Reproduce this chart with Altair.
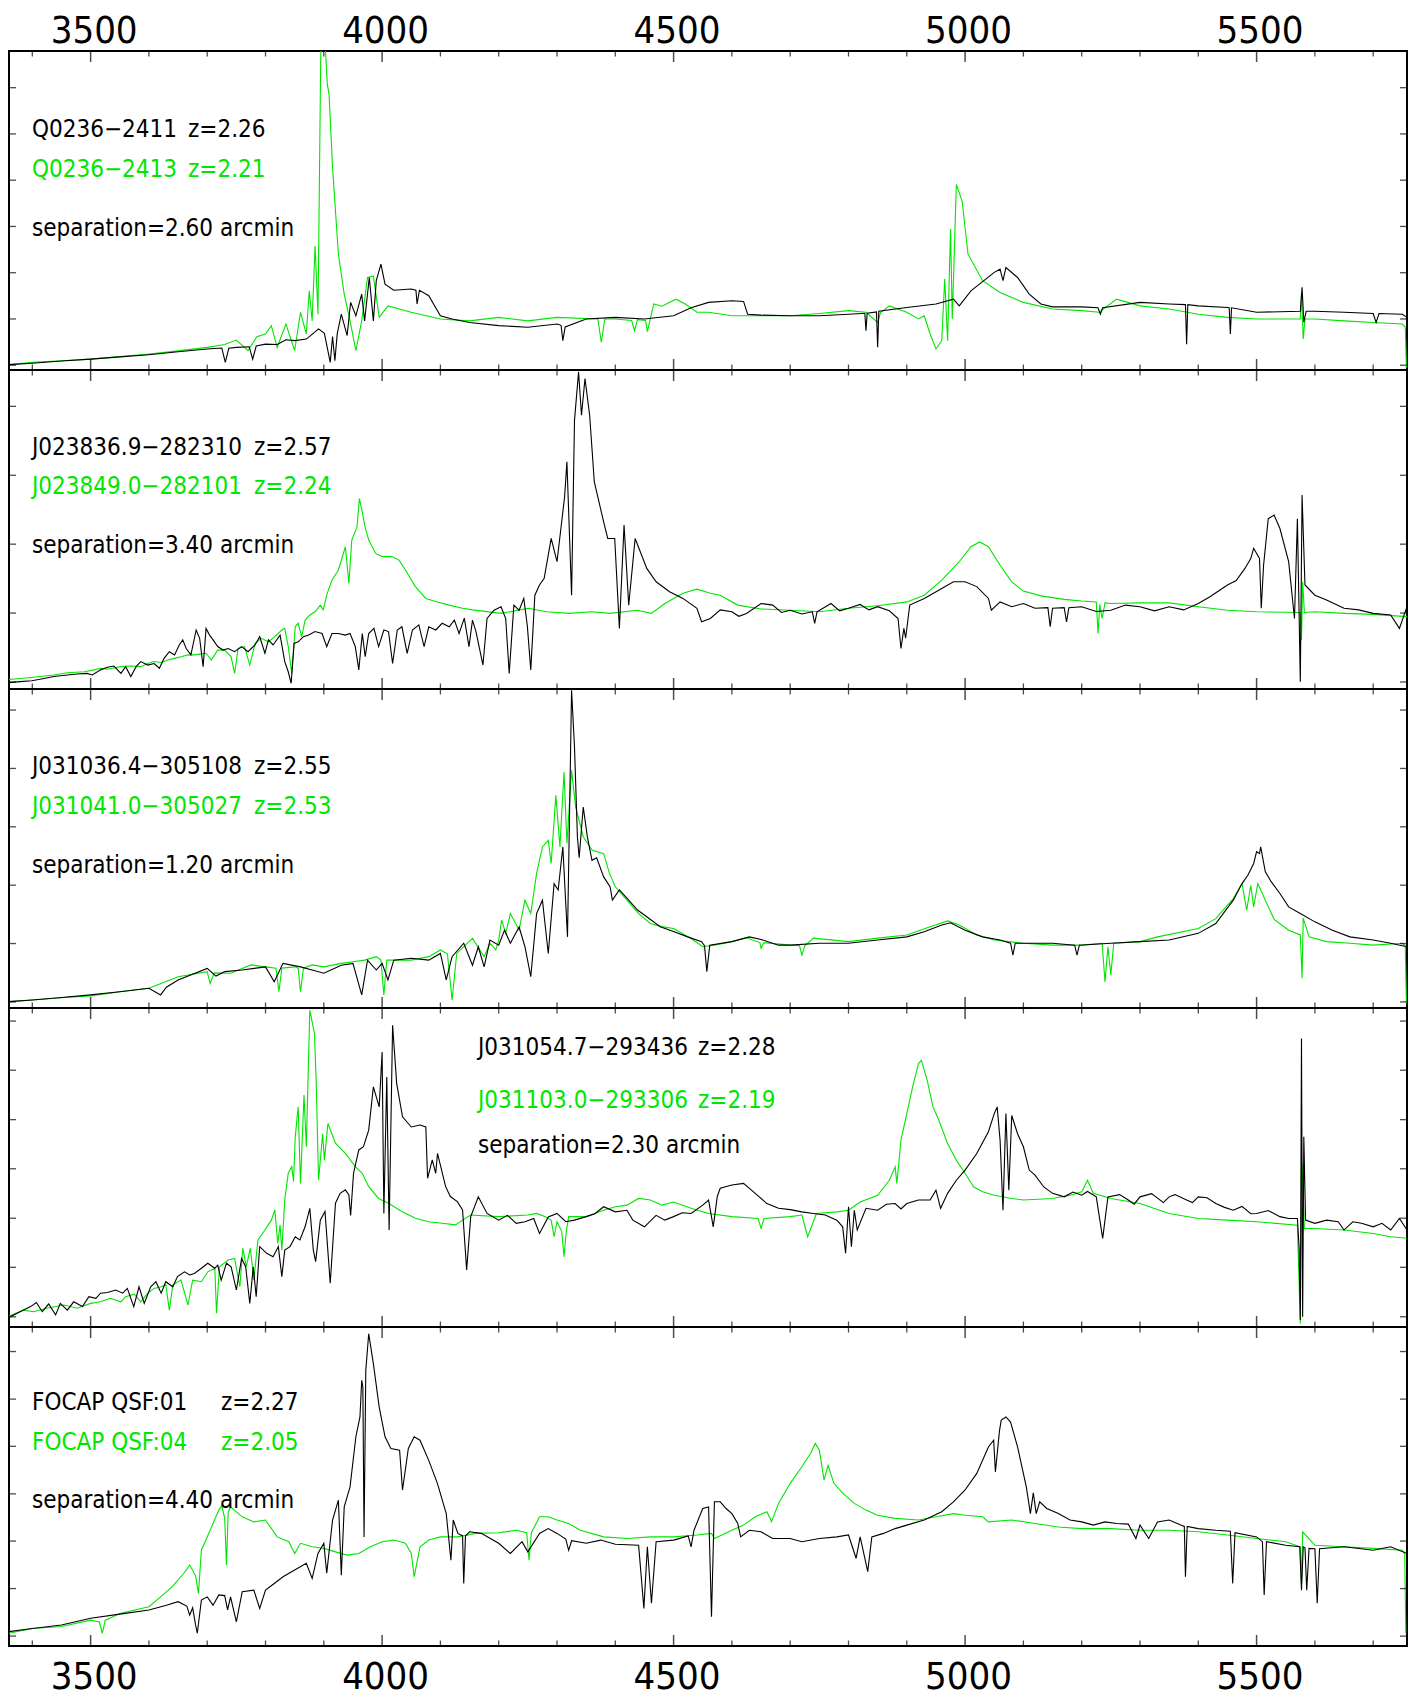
import altair as alt
import pandas as pd

# ---------------- data (wavelength in Angstrom, flux in % of panel height) ----------------
P1_BLACK = [(3360,1.7),(3400,2.1),(3450,2.8),(3500,3.4),(3550,4.1),(3600,4.8),(3650,5.7),(3700,6.6),(3725,6.9),(3731,2.4),(3737,6.8),(3750,7.1),(3772,7.3),(3778,3.4),(3784,7.5),(3800,8.1),(3820,8.0),(3835,9.5),(3850,9.2),(3870,9.7),(3884,11.8),(3891,12.9),(3901,11.5),(3911,2.4),(3915,10.5),(3919,2.9),(3923,11.3),(3930,17.5),(3940,10.8),(3946,21.2),(3955,17.0),(3965,23.8),(3970,15.4),(3978,29.0),(3985,15.4),(3990,28.0),(3998,33.2),(4005,26.9),(4020,25.0),(4050,25.4),(4058,25.0),(4060,20.7),(4064,25.0),(4080,23.3),(4100,17.0),(4120,16.0),(4150,14.9),(4200,13.9),(4250,13.4),(4300,14.4),(4307,14.0),(4310,9.2),(4314,13.5),(4350,16.0),(4400,16.5),(4450,16.0),(4500,17.0),(4530,19.5),(4560,21.2),(4600,21.7),(4620,21.5),(4627,17.5),(4650,17.2),(4700,17.0),(4750,17.0),(4800,17.5),(4828,17.8),(4830,12.3),(4832,17.8),(4848,18.2),(4850,7.1),(4852,18.4),(4900,19.6),(4950,20.7),(4980,22.2),(4990,20.1),(5010,24.8),(5050,30.6),(5060,31.6),(5065,28.0),(5070,32.1),(5090,29.0),(5110,23.8),(5130,20.7),(5150,19.8),(5200,19.8),(5228,19.5),(5232,17.5),(5236,19.5),(5300,21.2),(5350,20.7),(5378,20.5),(5380,8.1),(5382,20.5),(5400,20.1),(5450,19.6),(5453,19.5),(5455,11.3),(5457,19.5),(5500,18.1),(5575,18.4),(5578,25.9),(5581,15.0),(5585,18.4),(5600,18.4),(5650,18.1),(5700,17.7),(5705,14.9),(5710,17.7),(5750,17.5),(5758,16.5)]
P1_GREEN = [(3360,1.7),(3400,2.4),(3450,2.9),(3500,3.4),(3550,4.2),(3600,5.0),(3650,6.0),(3700,7.1),(3730,8.0),(3750,9.4),(3770,6.1),(3785,10.4),(3800,11.3),(3810,13.9),(3820,7.1),(3835,14.4),(3850,6.1),(3860,18.1),(3870,11.3),(3875,24.8),(3880,15.4),(3885,38.9),(3890,17.5),(3895,103.0),(3902,103.0),(3906,89.6),(3909,86.4),(3915,63.5),(3925,36.3),(3935,23.8),(3945,15.4),(3955,6.1),(3965,15.4),(3975,29.0),(3985,29.5),(3995,16.5),(4010,20.1),(4050,18.1),(4100,16.0),(4150,15.4),(4200,16.5),(4250,15.4),(4300,16.5),(4370,16.0),(4376,8.7),(4382,16.0),(4400,16.0),(4428,15.5),(4433,12.3),(4438,15.8),(4452,15.5),(4455,12.0),(4460,16.0),(4466,20.7),(4480,20.0),(4504,22.2),(4520,20.7),(4540,18.1),(4560,18.1),(4600,17.0),(4700,17.0),(4750,17.7),(4800,18.6),(4830,18.1),(4850,14.9),(4855,18.0),(4870,20.1),(4900,18.1),(4920,16.0),(4930,17.0),(4940,11.3),(4950,6.6),(4960,9.2),(4965,28.5),(4970,9.2),(4975,44.2),(4978,16.0),(4985,58.2),(4995,52.9),(5005,36.3),(5030,28.0),(5060,24.3),(5100,21.2),(5150,19.1),(5200,18.6),(5230,18.1),(5260,22.2),(5300,20.1),(5350,19.1),(5400,17.5),(5450,16.5),(5500,16.0),(5575,16.0),(5577,23.8),(5580,9.7),(5583,16.0),(5600,16.0),(5650,15.4),(5700,14.9),(5750,14.4),(5755,13.5),(5757,0.8)]

P2_BLACK = [(3360,2.0),(3379,2.3),(3399,2.6),(3420,3.3),(3437,3.9),(3460,4.4),(3477,4.7),(3494,4.9),(3503,4.4),(3517,6.0),(3529,6.8),(3540,7.2),(3552,4.9),(3560,7.0),(3569,3.9),(3578,7.0),(3586,8.6),(3598,7.5),(3609,8.0),(3618,6.5),(3626,9.6),(3635,11.7),(3644,10.7),(3652,13.8),(3658,15.4),(3664,12.7),(3672,10.7),(3681,18.5),(3687,15.9),(3693,7.0),(3698,19.0),(3704,16.9),(3710,15.4),(3718,13.3),(3727,12.2),(3736,12.7),(3747,11.7),(3759,13.3),(3770,11.7),(3782,13.8),(3790,16.4),(3799,11.2),(3805,15.4),(3813,13.8),(3825,16.9),(3833,8.6),(3839,5.4),(3844,1.8),(3849,14.3),(3856,14.8),(3865,16.4),(3874,16.9),(3885,18.0),(3897,17.4),(3905,13.3),(3914,17.4),(3925,17.4),(3937,16.9),(3945,17.4),(3954,13.3),(3960,6.0),(3966,17.4),(3971,10.1),(3977,17.4),(3986,19.0),(3994,13.3),(4003,18.5),(4011,18.0),(4018,8.0),(4026,18.5),(4034,19.5),(4043,11.2),(4052,18.5),(4063,20.1),(4072,13.3),(4080,19.5),(4092,18.5),(4103,20.6),(4115,19.5),(4124,21.6),(4132,17.4),(4141,22.2),(4149,13.3),(4155,21.6),(4161,18.0),(4173,7.5),(4180,22.1),(4192,24.7),(4204,25.8),(4212,22.1),(4218,4.9),(4226,26.3),(4235,24.7),(4243,28.4),(4249,20.0),(4255,6.0),(4262,29.4),(4270,32.6),(4278,34.7),(4290,47.2),(4300,39.9),(4313,60.2),(4317,71.2),(4325,29.4),(4330,84.2),(4337,99.4),(4342,85.8),(4348,97.3),(4356,85.8),(4364,64.9),(4380,52.4),(4387,47.2),(4399,47.2),(4407,19.0),(4415,51.4),(4423,26.3),(4434,47.2),(4454,37.8),(4470,33.6),(4493,30.5),(4516,28.4),(4540,25.3),(4548,21.1),(4563,22.1),(4580,24.8),(4600,24.2),(4612,22.8),(4625,23.7),(4650,26.8),(4670,26.3),(4685,24.0),(4700,24.7),(4720,23.5),(4738,24.2),(4742,20.6),(4746,24.2),(4770,26.8),(4785,24.5),(4800,25.3),(4820,26.5),(4835,24.8),(4850,25.8),(4870,24.5),(4885,22.1),(4890,12.7),(4895,19.0),(4898,15.9),(4905,26.3),(4930,28.4),(4960,31.5),(4980,33.6),(5000,33.6),(5020,32.1),(5040,28.4),(5045,24.7),(5060,27.3),(5080,25.8),(5100,26.8),(5120,25.3),(5142,25.5),(5146,19.5),(5150,25.3),(5170,25.5),(5174,21.0),(5178,25.5),(5200,25.8),(5225,24.3),(5250,24.7),(5275,26.3),(5300,25.8),(5325,24.5),(5350,25.8),(5375,24.8),(5400,26.8),(5420,28.9),(5450,32.6),(5465,34.0),(5480,37.8),(5490,40.9),(5495,44.1),(5505,40.9),(5508,25.3),(5512,38.8),(5520,53.4),(5530,54.5),(5540,50.3),(5555,39.9),(5565,22.1),(5570,53.4),(5575,2.3),(5578,60.8),(5583,32.6),(5600,29.4),(5620,27.9),(5650,25.3),(5675,24.8),(5700,23.7),(5730,23.2),(5745,19.0),(5758,25.8)]
P2_GREEN = [(3360,3.0),(3402,3.7),(3437,4.4),(3460,5.1),(3489,5.4),(3506,6.0),(3517,6.5),(3529,6.2),(3552,7.0),(3569,7.2),(3586,7.0),(3598,8.0),(3609,8.6),(3621,8.3),(3632,9.1),(3644,9.6),(3655,10.1),(3667,10.7),(3678,10.7),(3690,11.0),(3698,11.2),(3707,9.1),(3718,12.2),(3730,12.2),(3741,10.1),(3747,4.9),(3753,12.7),(3764,13.3),(3773,7.5),(3782,14.3),(3793,15.9),(3805,14.8),(3816,16.4),(3828,18.5),(3833,19.0),(3839,13.3),(3845,4.9),(3851,19.5),(3856,20.6),(3862,16.4),(3868,21.6),(3876,23.2),(3885,24.2),(3894,26.3),(3899,24.8),(3905,29.5),(3914,34.2),(3925,37.3),(3937,44.6),(3943,33.1),(3948,46.7),(3957,50.9),(3961,59.7),(3966,55.5),(3970,51.4),(3977,46.7),(3989,42.5),(4000,41.5),(4017,41.5),(4029,40.4),(4040,37.3),(4057,32.1),(4075,28.4),(4092,27.4),(4115,26.3),(4138,25.3),(4155,24.8),(4204,23.7),(4251,25.3),(4282,24.2),(4321,23.7),(4360,24.2),(4391,23.7),(4438,24.7),(4462,23.7),(4485,26.8),(4516,30.0),(4540,31.3),(4563,30.0),(4580,29.4),(4610,26.3),(4650,25.1),(4700,24.7),(4750,24.2),(4800,25.3),(4850,26.1),(4900,27.3),(4930,29.4),(4960,34.1),(4990,39.9),(5010,44.6),(5025,46.1),(5040,44.6),(5060,38.8),(5080,33.6),(5100,30.7),(5130,29.2),(5170,28.1),(5200,27.6),(5225,27.3),(5228,17.4),(5231,26.5),(5235,22.1),(5240,27.0),(5250,26.8),(5300,27.0),(5350,27.0),(5400,25.8),(5450,24.7),(5500,24.2),(5575,24.0),(5577,15.3),(5579,33.6),(5582,24.0),(5600,24.2),(5650,23.7),(5700,23.4),(5758,22.7)]

P3_BLACK = [(3360,2.0),(3400,2.5),(3450,3.3),(3500,4.1),(3550,5.1),(3600,6.2),(3620,4.1),(3630,6.5),(3650,8.8),(3700,12.4),(3715,10.0),(3730,11.4),(3760,11.9),(3800,12.9),(3815,8.2),(3830,14.0),(3860,12.9),(3880,11.9),(3900,10.9),(3930,13.4),(3950,14.0),(3965,4.1),(3975,15.0),(3990,11.9),(4000,14.0),(4010,8.8),(4020,15.0),(4050,15.6),(4080,15.0),(4100,17.1),(4110,8.8),(4120,16.1),(4140,20.3),(4155,13.4),(4165,19.2),(4175,12.9),(4185,21.3),(4200,19.7),(4210,24.4),(4220,20.3),(4235,25.4),(4245,19.2),(4255,9.8),(4265,29.6),(4275,33.8),(4285,17.1),(4295,39.0),(4302,37.0),(4310,50.5),(4318,22.3),(4325,99.6),(4330,81.8),(4335,53.7),(4338,47.1),(4345,63.0),(4352,53.7),(4360,46.3),(4368,47.1),(4380,41.1),(4391,38.0),(4395,33.8),(4407,37.0),(4423,33.8),(4438,30.7),(4454,28.6),(4477,25.5),(4501,23.9),(4524,22.3),(4548,20.8),(4553,19.5),(4557,11.4),(4562,19.7),(4600,20.8),(4630,22.3),(4650,21.5),(4680,19.7),(4700,19.7),(4750,20.3),(4800,20.3),(4850,21.3),(4900,22.3),(4930,23.9),(4960,26.0),(4975,26.7),(5000,24.4),(5030,22.3),(5060,21.3),(5078,20.3),(5082,16.6),(5086,20.3),(5100,20.3),(5150,20.3),(5188,19.7),(5192,16.6),(5196,19.7),(5250,20.3),(5300,20.8),(5350,21.3),(5400,23.4),(5430,26.5),(5460,33.8),(5475,39.0),(5485,41.6),(5495,45.3),(5500,49.0),(5505,48.4),(5507,50.5),(5515,42.7),(5525,39.6),(5540,35.9),(5555,31.7),(5575,29.6),(5600,27.0),(5630,24.4),(5660,22.3),(5700,21.3),(5730,20.3),(5758,19.2)]
P3_GREEN = [(3360,2.0),(3400,2.5),(3450,3.2),(3500,3.8),(3550,5.1),(3600,6.2),(3650,9.8),(3700,11.4),(3705,7.7),(3712,11.0),(3740,10.9),(3775,13.5),(3800,12.9),(3818,12.5),(3823,5.1),(3828,12.5),(3850,12.9),(3856,12.5),(3860,5.1),(3865,12.5),(3880,13.5),(3900,12.9),(3930,14.0),(3950,14.5),(3970,15.0),(3990,16.1),(3998,15.0),(4003,4.1),(4008,15.0),(4050,15.0),(4080,16.1),(4100,18.2),(4112,17.0),(4120,2.5),(4128,17.1),(4155,21.8),(4175,16.1),(4185,20.3),(4195,18.2),(4200,21.3),(4205,27.6),(4212,23.4),(4220,29.6),(4235,24.4),(4245,33.8),(4255,29.6),(4265,42.2),(4275,50.5),(4285,52.6),(4290,45.3),(4298,66.7),(4305,50.5),(4312,74.0),(4317,51.6),(4325,74.5),(4332,63.0),(4345,53.7),(4360,49.5),(4380,48.4),(4390,42.2),(4400,38.0),(4420,33.8),(4440,29.6),(4460,26.5),(4480,25.5),(4500,24.9),(4530,21.8),(4550,19.2),(4570,19.7),(4600,20.8),(4625,22.0),(4648,20.5),(4650,18.7),(4655,20.5),(4700,19.7),(4716,19.5),(4720,16.6),(4725,19.5),(4740,21.9),(4800,20.8),(4850,21.9),(4900,22.9),(4940,25.5),(4970,27.3),(4990,26.0),(5020,22.9),(5050,21.3),(5100,20.3),(5150,19.7),(5200,19.7),(5235,20.3),(5240,8.2),(5245,19.2),(5250,10.4),(5255,20.3),(5300,20.8),(5330,22.3),(5400,24.9),(5430,28.0),(5460,34.3),(5475,39.0),(5483,30.7),(5490,38.4),(5495,31.7),(5502,39.0),(5515,33.8),(5530,27.8),(5555,24.4),(5575,22.9),(5578,9.3),(5580,28.2),(5590,22.3),(5620,20.8),(5660,20.3),(5700,19.7),(5750,20.3),(5755,19.5),(5757,1.5)]

P4_BLACK = [(3360,3.0),(3379,4.8),(3397,6.4),(3407,7.7),(3417,4.8),(3428,7.2),(3440,3.8),(3448,7.4),(3460,5.3),(3471,7.9),(3486,6.4),(3497,9.5),(3509,9.0),(3517,10.6),(3529,10.8),(3543,11.6),(3555,10.6),(3563,12.1),(3574,6.4),(3583,12.6),(3592,7.4),(3603,12.6),(3612,14.2),(3621,10.6),(3629,14.2),(3641,12.6),(3649,15.8),(3661,17.3),(3670,16.3),(3678,16.8),(3690,18.4),(3701,20.0),(3713,18.4),(3718,19.4),(3724,14.7),(3733,20.0),(3741,18.9),(3750,11.6),(3759,21.5),(3766,18.9),(3773,7.4),(3779,18.9),(3784,9.5),(3790,25.2),(3802,23.1),(3813,22.0),(3822,25.2),(3828,15.8),(3833,24.1),(3842,25.2),(3851,28.3),(3859,27.3),(3868,31.5),(3876,37.2),(3882,24.1),(3886,20.5),(3894,33.5),(3902,36.2),(3911,13.7),(3920,38.8),(3928,41.9),(3937,43.0),(3943,41.4),(3946,35.0),(3951,48.2),(3960,55.5),(3968,56.5),(3977,61.7),(3985,75.3),(3995,69.0),(4000,86.2),(4003,35.6),(4008,78.4),(4012,30.4),(4018,94.6),(4025,76.3),(4035,65.9),(4050,62.7),(4065,63.3),(4075,62.7),(4078,46.6),(4086,52.4),(4092,48.2),(4095,54.4),(4109,44.0),(4117,40.9),(4129,39.3),(4138,36.7),(4145,17.9),(4152,34.6),(4165,40.8),(4180,35.6),(4200,33.5),(4215,35.0),(4230,32.5),(4245,33.0),(4260,34.0),(4270,29.3),(4285,34.5),(4300,35.6),(4315,33.0),(4330,33.5),(4350,34.6),(4365,35.5),(4380,37.7),(4400,36.1),(4420,36.6),(4430,33.5),(4450,31.4),(4470,35.0),(4485,33.5),(4500,34.6),(4515,35.8),(4530,35.6),(4550,38.2),(4560,39.8),(4568,31.4),(4575,41.0),(4580,43.5),(4600,44.5),(4620,45.0),(4640,41.9),(4660,38.7),(4680,37.2),(4700,36.8),(4720,36.1),(4740,35.6),(4760,35.1),(4780,33.5),(4790,31.4),(4795,23.1),(4800,37.7),(4805,25.2),(4810,36.6),(4815,30.4),(4830,37.2),(4850,36.6),(4865,38.5),(4880,38.7),(4890,37.0),(4900,38.7),(4920,39.8),(4940,39.8),(4950,42.9),(4958,37.2),(4970,41.9),(4985,46.0),(5000,49.2),(5020,54.4),(5040,61.2),(5050,66.9),(5055,69.0),(5060,58.6),(5065,36.6),(5070,66.9),(5075,42.9),(5080,66.3),(5090,60.6),(5100,56.5),(5110,49.2),(5120,47.6),(5135,43.9),(5150,41.9),(5170,40.8),(5185,42.3),(5200,41.3),(5210,42.5),(5225,40.8),(5236,27.8),(5245,40.8),(5265,41.5),(5280,39.8),(5290,38.5),(5300,40.8),(5320,41.8),(5340,39.0),(5350,40.8),(5360,41.5),(5380,39.8),(5390,39.0),(5400,40.8),(5415,40.5),(5430,38.7),(5445,37.5),(5460,36.6),(5475,37.8),(5490,35.5),(5500,35.6),(5520,36.5),(5540,34.6),(5555,34.0),(5570,34.0),(5573,24.6),(5575,2.2),(5577,90.4),(5579,3.2),(5581,59.6),(5584,33.5),(5600,32.5),(5620,33.5),(5640,33.0),(5650,30.4),(5665,33.0),(5680,32.5),(5700,31.4),(5715,32.5),(5730,30.4),(5745,34.0),(5758,30.4)]
P4_GREEN = [(3360,3.4),(3385,5.3),(3402,4.8),(3425,5.9),(3454,6.9),(3477,5.9),(3500,7.4),(3517,7.9),(3534,9.0),(3552,7.9),(3560,9.5),(3575,10.3),(3586,7.9),(3598,10.6),(3609,12.1),(3621,12.6),(3629,13.2),(3635,5.3),(3641,13.2),(3655,14.7),(3667,6.9),(3675,14.7),(3690,14.2),(3701,17.3),(3713,18.4),(3716,4.3),(3721,18.9),(3736,21.0),(3747,21.5),(3756,12.6),(3761,24.7),(3767,18.9),(3774,24.7),(3780,14.7),(3787,27.3),(3799,30.4),(3810,33.5),(3816,36.7),(3821,26.2),(3825,32.0),(3828,24.1),(3833,39.8),(3839,48.2),(3845,50.3),(3848,45.6),(3851,59.6),(3856,69.0),(3860,45.0),(3866,72.7),(3870,56.5),(3876,99.3),(3884,92.0),(3887,76.3),(3891,46.0),(3898,60.6),(3901,52.3),(3907,63.8),(3920,57.6),(3937,54.4),(3954,50.3),(3966,48.2),(3977,44.0),(3994,40.3),(4011,38.8),(4034,36.2),(4057,34.1),(4080,33.0),(4103,32.5),(4126,32.0),(4138,33.5),(4152,35.1),(4200,34.6),(4250,35.1),(4265,35.6),(4280,34.6),(4290,33.5),(4295,28.3),(4300,33.0),(4308,30.0),(4312,22.0),(4316,30.0),(4320,34.6),(4350,34.6),(4380,36.6),(4400,37.7),(4420,38.2),(4440,40.3),(4460,39.8),(4480,38.2),(4500,39.2),(4530,37.2),(4560,35.6),(4600,34.6),(4645,34.0),(4650,30.9),(4655,34.0),(4700,34.6),(4720,35.1),(4730,28.3),(4745,35.6),(4780,36.1),(4800,36.6),(4820,39.2),(4850,41.3),(4870,46.0),(4880,50.2),(4883,45.0),(4890,58.6),(4900,66.9),(4910,75.3),(4920,82.6),(4925,83.6),(4935,77.3),(4945,69.0),(4955,64.8),(4970,57.5),(4985,52.3),(5000,48.1),(5015,43.9),(5030,42.4),(5050,41.3),(5080,40.3),(5100,39.8),(5150,40.3),(5180,41.3),(5200,42.4),(5210,46.0),(5220,41.9),(5250,40.3),(5300,38.7),(5350,35.6),(5400,34.0),(5450,33.5),(5500,33.0),(5570,31.9),(5575,1.1),(5578,51.3),(5582,30.9),(5600,30.9),(5650,30.4),(5700,29.3),(5730,28.3),(5758,27.8)]

P5_BLACK = [(3360,4.5),(3400,5.5),(3450,6.6),(3500,8.7),(3550,10.0),(3600,11.3),(3630,12.8),(3650,13.9),(3665,12.5),(3670,9.7),(3675,12.0),(3680,6.6),(3683,4.0),(3690,14.4),(3700,15.4),(3710,12.8),(3720,16.0),(3730,15.8),(3735,11.3),(3740,15.4),(3750,7.6),(3760,17.0),(3780,17.5),(3790,11.8),(3800,17.5),(3815,19.6),(3830,21.7),(3850,23.8),(3870,25.9),(3880,21.2),(3890,29.0),(3900,32.2),(3905,22.8),(3915,39.5),(3925,45.7),(3930,22.2),(3935,43.6),(3945,49.9),(3955,65.6),(3962,71.8),(3965,83.3),(3967,81.2),(3969,34.2),(3972,86.4),(3977,97.9),(3985,88.5),(3995,74.9),(4005,65.6),(4015,61.9),(4030,61.4),(4035,48.9),(4045,61.9),(4055,65.6),(4065,64.5),(4080,58.2),(4095,50.9),(4110,41.5),(4118,26.9),(4122,39.5),(4130,35.3),(4138,34.5),(4140,19.6),(4143,34.5),(4150,35.8),(4170,35.3),(4200,32.2),(4220,29.0),(4240,32.7),(4250,29.5),(4270,35.3),(4285,36.8),(4300,35.3),(4315,33.5),(4320,30.0),(4325,33.0),(4350,32.2),(4375,33.2),(4400,31.9),(4440,31.6),(4449,11.8),(4455,31.1),(4462,13.4),(4470,32.7),(4500,33.2),(4525,34.5),(4530,31.1),(4535,36.3),(4550,43.1),(4560,43.6),(4565,9.2),(4570,45.2),(4580,45.2),(4590,43.1),(4600,41.5),(4610,38.4),(4615,34.2),(4630,36.3),(4650,35.8),(4670,33.7),(4700,33.7),(4720,32.7),(4750,33.7),(4780,34.2),(4800,34.8),(4813,27.5),(4820,34.2),(4833,23.3),(4840,34.2),(4860,35.3),(4880,36.8),(4900,37.9),(4930,39.5),(4960,42.1),(4980,45.2),(5000,48.9),(5020,54.1),(5040,62.4),(5049,64.5),(5052,54.6),(5059,67.5),(5062,70.8),(5070,71.8),(5078,70.2),(5090,62.4),(5105,49.9),(5112,41.5),(5117,48.0),(5122,41.5),(5128,45.2),(5140,43.1),(5160,41.5),(5180,39.5),(5200,38.9),(5220,37.9),(5240,38.9),(5260,38.4),(5280,38.2),(5293,33.7),(5300,37.9),(5315,33.7),(5330,38.9),(5350,39.5),(5370,37.9),(5376,37.5),(5378,21.7),(5381,37.5),(5400,36.8),(5430,36.3),(5455,36.0),(5459,19.6),(5463,35.5),(5500,34.2),(5510,32.7),(5513,16.0),(5517,32.7),(5550,31.6),(5574,31.1),(5577,17.5),(5580,31.1),(5583,30.8),(5586,17.5),(5590,30.6),(5600,30.5),(5604,13.4),(5608,30.5),(5650,31.1),(5700,30.0),(5730,31.1),(5758,29.0)]
P5_GREEN = [(3360,4.0),(3400,5.5),(3450,6.1),(3500,8.1),(3515,7.5),(3520,4.0),(3525,8.0),(3550,10.2),(3600,12.3),(3620,15.4),(3640,18.6),(3660,22.8),(3670,25.4),(3680,22.0),(3685,16.5),(3690,30.1),(3700,34.2),(3710,38.4),(3720,42.6),(3725,44.0),(3730,40.0),(3733,25.4),(3736,42.0),(3740,43.6),(3760,40.5),(3780,38.9),(3800,39.5),(3820,34.2),(3840,32.7),(3850,29.0),(3860,32.2),(3880,31.1),(3900,30.6),(3920,29.5),(3940,28.5),(3960,29.0),(3980,31.1),(4000,32.7),(4020,33.2),(4040,32.2),(4050,29.0),(4055,21.7),(4065,31.1),(4080,33.2),(4100,34.2),(4130,34.2),(4160,35.3),(4200,35.5),(4230,36.3),(4248,35.5),(4252,26.9),(4256,35.5),(4270,40.5),(4285,40.5),(4300,39.5),(4320,38.4),(4340,36.3),(4380,34.2),(4420,33.7),(4460,34.2),(4500,34.2),(4540,34.8),(4565,35.3),(4570,33.7),(4600,36.3),(4620,37.9),(4640,40.5),(4660,42.1),(4668,39.0),(4680,44.7),(4700,51.0),(4720,56.2),(4735,60.4),(4743,63.5),(4750,61.4),(4758,52.0),(4765,56.6),(4775,51.0),(4790,47.9),(4810,44.7),(4830,42.6),(4850,41.0),(4880,40.0),(4920,39.5),(4950,40.5),(4980,41.5),(5000,41.0),(5030,40.5),(5040,38.9),(5080,39.5),(5120,38.4),(5160,37.3),(5200,36.8),(5250,36.8),(5300,36.3),(5350,36.3),(5400,35.8),(5450,34.8),(5500,33.7),(5550,32.7),(5575,31.1),(5577,19.6),(5579,35.8),(5600,31.6),(5650,31.1),(5700,30.6),(5750,30.0),(5754,29.0),(5756,4.0)]

NAMES_BLACK = ["Q0236\u22122411", "J023836.9\u2212282310", "J031036.4\u2212305108", "J031054.7\u2212293436", "FOCAP QSF:01"]
Z_BLACK = ["z=2.26", "z=2.57", "z=2.55", "z=2.28", "z=2.27"]
NAMES_GREEN = ["Q0236\u22122413", "J023849.0\u2212282101", "J031041.0\u2212305027", "J031103.0\u2212293306", "FOCAP QSF:04"]
Z_GREEN = ["z=2.21", "z=2.24", "z=2.53", "z=2.19", "z=2.05"]
SEPARATIONS = ["separation=2.60 arcmin", "separation=3.40 arcmin", "separation=1.20 arcmin",
               "separation=2.30 arcmin", "separation=4.40 arcmin"]

X_DOMAIN = [3360, 5758]
X_LABELS = [3500, 4000, 4500, 5000, 5500]
X_MINOR = list(range(3400, 5701, 100))
BOUNDARIES = [0, 100, 200, 300, 400, 500]
Y_TICKS = [
    [1.5, 16, 30.5, 45, 59.5, 74, 88.5],
    [2.2, 23.8, 45.4, 67, 88.6],
    [1.9, 20.2, 38.5, 56.8, 75.1, 93.4],
    [3.2, 18.7, 34.1, 49.6, 65, 80.5, 95.9],
    [3.1, 18, 32.9, 47.7, 62.6, 77.4, 92.3],
]

# ---------------- layout / style ----------------
W, H = 1398, 1595
GREEN = "#00e600"
FONT = "DejaVu Sans Condensed, Liberation Sans Narrow, sans-serif"
TEXT_SIZE = 24
AXIS_SIZE = 38
# (name x, z x, baseline of black line, green line, separation line), plot pixels
TEXT_LAYOUT = [
    (23, 179, 86, 126, 185),
    (23, 245, 404, 443, 502),
    (23, 245, 723, 763, 822),
    (469, 689, 1004, 1057, 1102),
    (23, 212, 1359, 1399, 1457),
]

spectra = [(P1_BLACK, P1_GREEN), (P2_BLACK, P2_GREEN), (P3_BLACK, P3_GREEN),
           (P4_BLACK, P4_GREEN), (P5_BLACK, P5_GREEN)]
rows = []
for i, (blk, grn) in enumerate(spectra):
    base = (4 - i) * 100
    for series, pts in (("black", blk), ("green", grn)):
        for w, f in pts:
            rows.append({"key": f"{i}-{series}", "series": series, "wave": w, "y": base + f})
lines = pd.DataFrame(rows)

xs = alt.Scale(domain=X_DOMAIN, nice=False, zero=False)
ys = alt.Scale(domain=[0, 500], nice=False, zero=False)


def spec_layer(series, color):
    return alt.Chart(lines[lines.series == series]).mark_line(
        color=color, strokeWidth=1.1, clip=True
    ).encode(
        x=alt.X("wave:Q", scale=xs, axis=None),
        y=alt.Y("y:Q", scale=ys, axis=None),
        detail="key:N",
    )


xt = pd.DataFrame([{"wave": w, "yb": b, "major": (w % 500 == 0)} for w in X_MINOR for b in BOUNDARIES])

axis_common = dict(values=X_LABELS, format="d", labelFont=FONT, labelFontSize=AXIS_SIZE, labelColor="black",
                   ticks=False, domain=False, grid=False, labelFlush=False, labelOverlap=False,
                   labelBound=False, title=None, labelOffset=3)

major_ticks = alt.Chart(xt[xt.major]).mark_tick(
    orient="vertical", size=22, thickness=1.5, color="black", clip=True
).encode(
    x=alt.X("wave:Q", scale=xs, axis=alt.Axis(orient="top", labelPadding=1, **axis_common)),
    y=alt.Y("yb:Q", scale=ys, axis=None),
)
minor_ticks = alt.Chart(xt[~xt.major]).mark_tick(
    orient="vertical", size=11, thickness=1.3, color="black", clip=True
).encode(
    x=alt.X("wave:Q", scale=xs, axis=alt.Axis(orient="bottom", labelPadding=12, **axis_common)),
    y=alt.Y("yb:Q", scale=ys, axis=None),
)

yt = pd.DataFrame([{"y": (4 - i) * 100 + t} for i, ticks in enumerate(Y_TICKS) for t in ticks])
ytick_left = alt.Chart(yt).mark_tick(orient="horizontal", size=14, thickness=1.3, color="black", clip=True).encode(
    x=alt.value(0), y=alt.Y("y:Q", scale=ys, axis=None))
ytick_right = alt.Chart(yt).mark_tick(orient="horizontal", size=14, thickness=1.3, color="black", clip=True).encode(
    x=alt.value(W), y=alt.Y("y:Q", scale=ys, axis=None))

seps = alt.Chart(pd.DataFrame({"yb": BOUNDARIES[1:-1]})).mark_rule(color="black", strokeWidth=2).encode(
    y=alt.Y("yb:Q", scale=ys, axis=None))

texts = []
for i in range(5):
    nx, zx, yb, yg, ysep = TEXT_LAYOUT[i]
    for label, x, y, col in ((NAMES_BLACK[i], nx, yb, "black"), (Z_BLACK[i], zx, yb, "black"),
                             (NAMES_GREEN[i], nx, yg, GREEN), (Z_GREEN[i], zx, yg, GREEN),
                             (SEPARATIONS[i], nx, ysep, "black")):
        texts.append(
            alt.Chart(pd.DataFrame({"t": [label]})).mark_text(
                x=x, y=y, align="left", baseline="alphabetic", font=FONT, fontSize=TEXT_SIZE, color=col
            ).encode(text="t:N")
        )

chart = alt.layer(
    spec_layer("green", GREEN), spec_layer("black", "black"),
    seps, major_ticks, minor_ticks, ytick_left, ytick_right, *texts
).resolve_axis(x="independent").properties(
    width=W, height=H,
    autosize=alt.AutoSizeParams(type="none"),
    padding={"left": 9, "top": 51, "right": 4, "bottom": 50},
    background="white",
).configure_view(stroke="black", strokeWidth=2)

chart.save("out.html", embed_options={"renderer": "svg", "actions": False})
